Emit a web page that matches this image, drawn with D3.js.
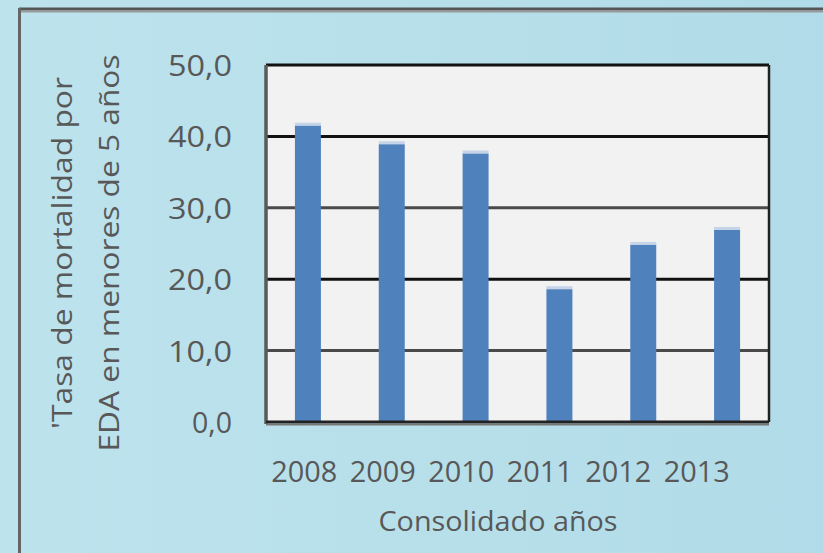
<!DOCTYPE html>
<html>
<head>
<meta charset="utf-8">
<script src="https://cdn.jsdelivr.net/npm/d3@7"></script>
<style>
  html, body { margin: 0; padding: 0; }
  body { width: 823px; height: 553px; overflow: hidden; }
</style>
</head>
<body>
<div id="chart"></div>
<script>
'use strict';

var years = ['2008', '2009', '2010', '2011', '2012', '2013'];
var tasa = [41.5, 38.9, 37.6, 18.6, 24.8, 26.9];
var yTicks = [0, 10, 20, 30, 40, 50];
var yTitleLines = ["'Tasa de mortalidad por", 'EDA en menores de 5 años'];
var xTitle = 'Consolidado años';

var W = 823, H = 553;
var plot = { left: 266, right: 769, top: 65, bottom: 422 };
var font = "'Open Sans', 'Noto Sans', sans-serif";
var textColor = '#585858';

var svg = d3.select('#chart').append('svg')
  .attr('width', W)
  .attr('height', H)
  .style('font-family', font);

// background gradient
var defs = svg.append('defs');
var grad = defs.append('linearGradient')
  .attr('id', 'bg')
  .attr('x1', '0').attr('y1', '0').attr('x2', '1').attr('y2', '0');
grad.append('stop').attr('offset', '0%').attr('stop-color', '#bde3ed');
grad.append('stop').attr('offset', '60%').attr('stop-color', '#b6dfea');
grad.append('stop').attr('offset', '100%').attr('stop-color', '#b1dbe8');

svg.append('rect')
  .attr('width', W).attr('height', H)
  .attr('fill', 'url(#bg)');

// outer frame (top + left edges visible)
svg.append('line')
  .attr('x1', 19).attr('x2', W).attr('y1', 9).attr('y2', 9)
  .attr('stroke', '#555').attr('stroke-width', 3);
svg.append('line')
  .attr('x1', 19).attr('x2', W).attr('y1', 11.5).attr('y2', 11.5)
  .attr('stroke', '#999').attr('stroke-width', 2);
svg.append('line')
  .attr('x1', 19.5).attr('x2', 19.5).attr('y1', 8).attr('y2', H)
  .attr('stroke', '#666').attr('stroke-width', 3);

var x = d3.scaleBand()
  .domain(years)
  .range([plot.left, plot.right])
  .paddingInner(0.69)
  .paddingOuter(0.345);

// tick labels sit slightly tighter than the bars in the reference
var xLabel = d3.scaleBand()
  .domain(years)
  .range([265, 736]);

var y = d3.scaleLinear()
  .domain([0, 50])
  .range([plot.bottom, plot.top]);

// plot area
svg.append('rect')
  .attr('x', plot.left).attr('y', plot.top)
  .attr('width', plot.right - plot.left)
  .attr('height', plot.bottom - plot.top)
  .attr('fill', '#f2f2f2');

// gridlines
svg.append('g')
  .selectAll('line')
  .data(yTicks.filter(function(d) { return d > 0 && d < 50; }))
  .enter().append('line')
  .attr('x1', plot.left).attr('x2', plot.right)
  .attr('y1', function(d) { return y(d); })
  .attr('y2', function(d) { return y(d); })
  .attr('stroke', function(d) { return d % 20 === 0 ? '#111' : '#4a4a4a'; })
  .attr('stroke-width', 3);

// bars
svg.append('g')
  .selectAll('rect')
  .data(tasa)
  .enter().append('rect')
  .attr('x', function(d, i) { return x(years[i]); })
  .attr('y', function(d) { return y(d); })
  .attr('width', x.bandwidth())
  .attr('height', function(d) { return y(0) - y(d); })
  .attr('fill', '#4f81bd');

// bar top highlight
svg.append('g')
  .selectAll('rect')
  .data(tasa)
  .enter().append('rect')
  .attr('x', function(d, i) { return x(years[i]); })
  .attr('y', function(d) { return y(d) - 3; })
  .attr('width', x.bandwidth())
  .attr('height', 3)
  .attr('fill', '#a9c0e0')
  .attr('opacity', 0.6);

// plot border
svg.append('line')
  .attr('x1', plot.left).attr('x2', plot.right)
  .attr('y1', plot.top).attr('y2', plot.top)
  .attr('stroke', '#111').attr('stroke-width', 3);
svg.append('line')
  .attr('x1', plot.right).attr('x2', plot.right)
  .attr('y1', plot.top).attr('y2', plot.bottom)
  .attr('stroke', '#222').attr('stroke-width', 2.5);
svg.append('line')
  .attr('x1', plot.left).attr('x2', plot.left)
  .attr('y1', plot.top).attr('y2', plot.bottom + 2)
  .attr('stroke', '#5a5a5a').attr('stroke-width', 3.5);
svg.append('line')
  .attr('x1', plot.left).attr('x2', plot.right)
  .attr('y1', plot.bottom).attr('y2', plot.bottom)
  .attr('stroke', '#222').attr('stroke-width', 3);
svg.append('line')
  .attr('x1', plot.left).attr('x2', plot.right)
  .attr('y1', plot.bottom + 2.5).attr('y2', plot.bottom + 2.5)
  .attr('stroke', '#777').attr('stroke-width', 2);

// y axis labels
var fmt = function(d) { return d3.format('.1f')(d).replace('.', ','); };
var yAxis = d3.axisLeft(y)
  .tickValues(yTicks)
  .tickSize(0)
  .tickPadding(0)
  .tickFormat(fmt);

var yg = svg.append('g')
  .attr('transform', 'translate(232,0)')
  .call(yAxis);
yg.select('.domain').remove();
yg.selectAll('text')
  .attr('font-family', font)
  .attr('font-size', 30)
  .attr('fill', textColor)
  .attr('dy', '0.35em')
  .attr('textLength', function(d) { return d === 0 ? 40 : 64; })
  .attr('lengthAdjust', 'spacingAndGlyphs');

// x axis labels
var xAxis = d3.axisBottom(xLabel)
  .tickSize(0)
  .tickPadding(0);

var xg = svg.append('g')
  .attr('transform', 'translate(0,482)')
  .call(xAxis);
xg.select('.domain').remove();
xg.selectAll('text')
  .attr('font-family', font)
  .attr('font-size', 30)
  .attr('fill', textColor)
  .attr('y', 0)
  .attr('dy', 0)
  .attr('textLength', 66)
  .attr('lengthAdjust', 'spacingAndGlyphs');

// axis titles
svg.append('text')
  .attr('x', 498).attr('y', 531)
  .attr('text-anchor', 'middle')
  .attr('font-size', 28)
  .attr('fill', textColor)
  .attr('textLength', 239)
  .attr('lengthAdjust', 'spacingAndGlyphs')
  .text(xTitle);

var titleX = [72, 119];
var titleLen = [352, 397];
yTitleLines.forEach(function(line, i) {
  svg.append('text')
    .attr('transform', 'translate(' + titleX[i] + ',253) rotate(-90)')
    .attr('text-anchor', 'middle')
    .attr('font-size', 27)
    .attr('fill', textColor)
    .attr('textLength', titleLen[i])
    .attr('lengthAdjust', 'spacingAndGlyphs')
    .text(line);
});
</script>
</body>
</html>
